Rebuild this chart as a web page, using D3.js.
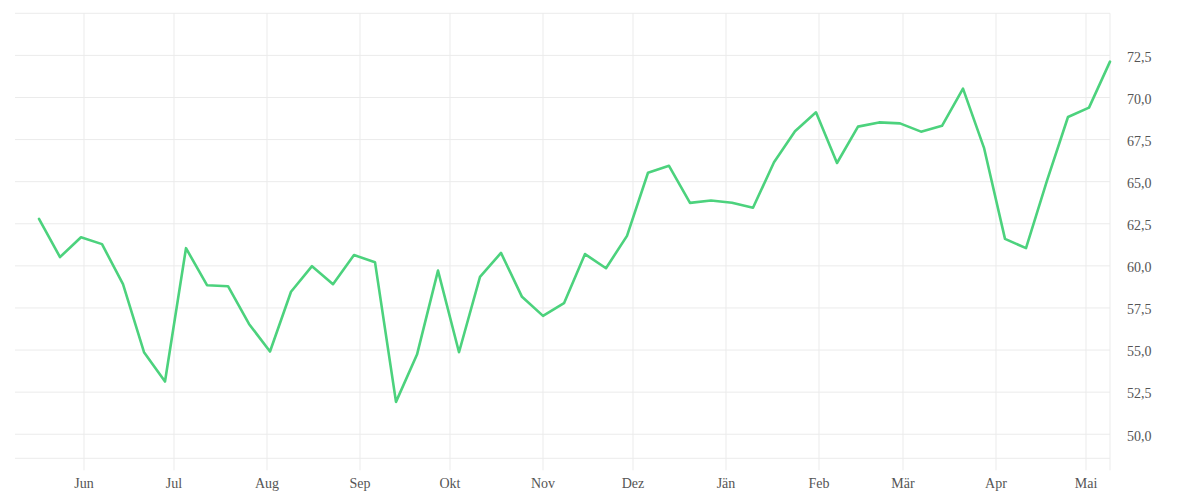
<!DOCTYPE html>
<html>
<head>
<meta charset="utf-8">
<script src="https://cdn.jsdelivr.net/npm/d3@7"></script>
<style>
  html, body { margin: 0; padding: 0; background: #fff; }
  svg { display: block; }
  text { font-family: "Liberation Serif", "DejaVu Serif", serif; }
</style>
</head>
<body>
<svg id="chart" width="1200" height="500"></svg>
<script>
// ---- data ----
const startDate = "2022-05-17";           // first weekly observation
const weeklyValues = [
  62.79, 60.52, 61.70, 61.29, 58.91, 54.87, 53.13, 61.05, 58.85, 58.79,
  56.55, 54.91, 58.46, 59.98, 58.91, 60.64, 60.22, 51.92, 54.73, 59.72,
  54.87, 59.35, 60.77, 58.16, 57.03, 57.78, 60.70, 59.86, 61.78, 65.53,
  65.94, 63.74, 63.88, 63.75, 63.45, 66.15, 68.00, 69.12, 66.11, 68.27,
  68.52, 68.46, 67.97, 68.32, 70.53, 67.01, 61.60, 61.05, 65.06, 68.84,
  69.40, 72.13
];
const monthTickDates = [
  "2022-06-01","2022-07-01","2022-08-01","2022-09-01","2022-10-01","2022-11-01",
  "2022-12-01","2023-01-01","2023-02-01","2023-03-01","2023-04-01","2023-05-01"
];
const monthTickLabels = ["Jun","Jul","Aug","Sep","Okt","Nov","Dez","Jän","Feb","Mär","Apr","Mai"];
const yTickValues = [50, 52.5, 55, 57.5, 60, 62.5, 65, 67.5, 70, 72.5];
const xDomain = ["2022-05-09", "2023-05-09"];
const yDomain = [48.57, 75];

// ---- build ----
(function () {
  const parse = d3.utcParse("%Y-%m-%d");
  const start = parse(startDate);
  const data = weeklyValues.map((v, i) => ({ date: d3.utcDay.offset(start, i * 7), value: v }));

  const pLeft = 15, pRight = 1110, pTop = 13.3, pBottom = 458.3;
  const x = d3.scaleUtc().domain(xDomain.map(parse)).range([pLeft, pRight]);
  const y = d3.scaleLinear().domain(yDomain).range([pBottom, pTop]);

  const locale = d3.formatLocale({ decimal: ",", thousands: ".", grouping: [3], currency: ["", " €"] });
  const fmt = locale.format(".1f");

  const svg = d3.select("#chart");
  const gridColor = "#ebebeb";

  // horizontal grid lines (ticks + top/bottom frame)
  const hLines = yTickValues.concat([yDomain[1], yDomain[0]]);
  svg.append("g").selectAll("line").data(hLines).join("line")
    .attr("x1", pLeft).attr("x2", pRight)
    .attr("y1", d => y(d)).attr("y2", d => y(d))
    .attr("stroke", gridColor).attr("stroke-width", 1);

  // vertical grid lines at month ticks + right edge
  const tickDates = monthTickDates.map(parse);
  svg.append("g").selectAll("line").data(tickDates).join("line")
    .attr("x1", d => x(d)).attr("x2", d => x(d))
    .attr("y1", pTop).attr("y2", pBottom + 12)
    .attr("stroke", gridColor).attr("stroke-width", 1);
  svg.append("line")
    .attr("x1", pRight).attr("x2", pRight)
    .attr("y1", pTop).attr("y2", pBottom + 12)
    .attr("stroke", gridColor).attr("stroke-width", 1);

  // x axis labels
  svg.append("g").selectAll("text").data(tickDates).join("text")
    .attr("x", d => x(d)).attr("y", 488)
    .attr("text-anchor", "middle")
    .attr("font-size", 14).attr("fill", "#555")
    .text((d, i) => monthTickLabels[i]);

  // y axis labels (right)
  svg.append("g").selectAll("text").data(yTickValues).join("text")
    .attr("x", 1127).attr("y", d => y(d))
    .attr("dy", "0.45em")
    .attr("text-anchor", "start")
    .attr("font-size", 14).attr("fill", "#555")
    .text(d => fmt(d));

  // line
  const line = d3.line().x(d => x(d.date)).y(d => y(d.value));
  svg.append("path").datum(data)
    .attr("d", line)
    .attr("fill", "none")
    .attr("stroke", "#4cd27d")
    .attr("stroke-width", 2.6)
    .attr("stroke-linejoin", "round")
    .attr("stroke-linecap", "round");
})();
</script>
</body>
</html>
